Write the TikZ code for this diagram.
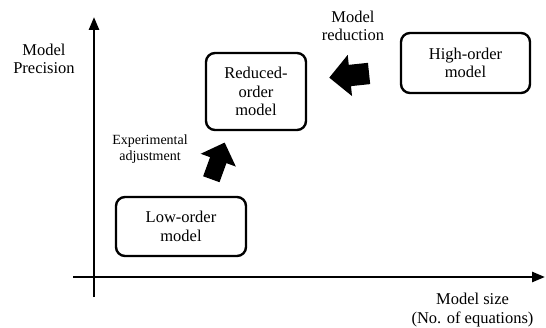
\documentclass[tikz,border=0pt]{standalone}
\usepackage{fontspec}
\setmainfont{Liberation Serif}
\usetikzlibrary{arrows.meta,shapes.arrows}

\begin{document}
\begin{tikzpicture}[x=1pt, y=1pt,
    model_box/.style={draw=black, line width=2.4pt, rounded corners=9pt, align=center,
        inner sep=0pt, font=\fontsize{16.5}{18.5}\selectfont},
    block_arrow/.style={single arrow, fill=black, inner xsep=0pt, inner ysep=8.5pt,
        single arrow head extend=10pt, minimum height=39pt},
    axis/.style={draw=black, line width=2.6pt, -{Triangle[length=13pt, width=10pt]}},
    label/.style={align=center, font=\fontsize{16.5}{18.5}\selectfont}]

    \useasboundingbox (0,0) rectangle (546,327);

    \coordinate (origin_left) at (73,50);
    \coordinate (axis_right) at (545,50);
    \coordinate (origin_below) at (94,30);
    \coordinate (axis_top) at (94,310);

    \path[axis] (origin_left) -- (axis_right);
    \path[axis] (origin_below) -- (axis_top);

    \node[label] (precision) at (44,268) {Model\\Precision};
    \node[label, anchor=east] (size) at (537,17) {Model size\\(No. of equations)};

    \node[model_box, minimum width=130pt, minimum height=59pt] (low_order) at (181,100.5) {Low-order\\model};
    \node[model_box, minimum width=100pt, minimum height=77pt] (reduced_order) at (256,235.5) {Reduced-\\order\\model};
    \node[model_box, minimum width=129pt, minimum height=60pt] (high_order) at (465.5,264) {High-order\\model};

    \node[block_arrow, rotate=70] (adjust_arrow) at (216.5,162) {};
    \node[block_arrow, rotate=186, inner ysep=10.5pt, minimum height=40pt] (reduce_arrow) at (354.5,252) {};

    \node[align=center, font=\fontsize{14}{16.5}\selectfont] (adjust_label) at (150,178) {Experimental\\adjustment};
    \node[label] (reduce_label) at (353,301) {Model\\reduction};

\end{tikzpicture}
\end{document}
